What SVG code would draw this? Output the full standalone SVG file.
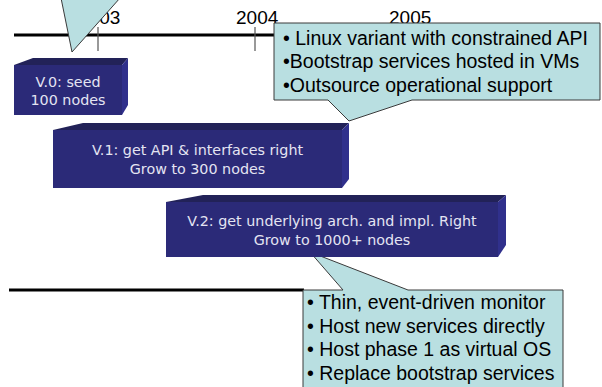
<svg xmlns="http://www.w3.org/2000/svg" width="602" height="387" viewBox="0 0 602 387">
<style>
.bg{fill:#ffffff}
.axis{stroke:#000000;stroke-width:3;fill:none}
.tick{stroke:#555555;stroke-width:1.2;fill:none}
.year{font-family:"Liberation Sans",Arial,sans-serif;font-size:19px;fill:#000000}
.callout{fill:#b9dfe1;stroke:#3a3a3a;stroke-width:1}
.ctext{font-family:"Liberation Sans",Arial,sans-serif;font-size:19.5px;fill:#000000}
.front{fill:#2b2a78}
.top{fill:#222258}
.side{fill:#30308c}
.btext{font-family:"DejaVu Sans",Verdana,sans-serif;font-size:14.3px;fill:#e4e4f2;text-anchor:middle}
</style>
<rect class="bg" x="0" y="0" width="602" height="387"/>
<g id="connectors">
<line class="axis" x1="14" y1="35" x2="276" y2="35"/>
<line class="tick" x1="98" y1="27" x2="98" y2="51"/>
<line class="tick" x1="255" y1="27" x2="255" y2="51"/>
<line class="axis" x1="9" y1="290" x2="304" y2="290"/>
</g>
<g id="years">
<text class="year" x="78" y="24">2003</text>
<text class="year" x="236" y="24">2004</text>
<text class="year" x="389" y="24">2005</text>
</g>
<g id="callout-top-left">
<polygon class="callout" points="61,-2 72,52 120,-2"/>
</g>
<g id="callout-phase1">
<path class="callout" d="M274,23 H600 V100 H412 L349,121 L328,100 H274 Z"/>
<text class="ctext" x="283" y="45">• Linux variant with constrained API</text>
<text class="ctext" x="283" y="68">•Bootstrap services hosted in VMs</text>
<text class="ctext" x="283" y="92">•Outsource operational support</text>
</g>
<g id="v0">
<polygon class="top" points="14,65 33,58 128,58 122,65"/>
<polygon class="side" points="122,65 128,58 128,105 122,115"/>
<rect class="front" x="14" y="65" width="108" height="50"/>
<text class="btext" x="68" y="87">V.0: seed</text>
<text class="btext" x="68" y="105">100 nodes</text>
</g>
<g id="v1">
<polygon class="top" points="53,130 83,123 349,123 342,130"/>
<polygon class="side" points="342,130 349,123 349,179 342,188"/>
<rect class="front" x="53" y="130" width="289" height="58"/>
<text class="btext" x="197.5" y="155">V.1: get API &amp; interfaces right</text>
<text class="btext" x="197.5" y="174">Grow to 300 nodes</text>
</g>
<g id="callout-phase2">
<path class="callout" d="M303,290 H343 L310,252 L408,290 H563 V395 H303 Z"/>
<text class="ctext" x="307" y="309">• Thin, event-driven monitor</text>
<text class="ctext" x="307" y="333">• Host new services directly</text>
<text class="ctext" x="307" y="356">• Host phase 1 as virtual OS</text>
<text class="ctext" x="307" y="380">• Replace bootstrap services</text>
</g>
<g id="v2">
<polygon class="top" points="166,202 203,195 506,195 498,202"/>
<polygon class="side" points="498,202 506,195 506,245 498,257"/>
<rect class="front" x="166" y="202" width="332" height="55"/>
<text class="btext" x="332" y="226">V.2: get underlying arch. and impl. Right</text>
<text class="btext" x="332" y="245">Grow to 1000+ nodes</text>
</g>
</svg>
